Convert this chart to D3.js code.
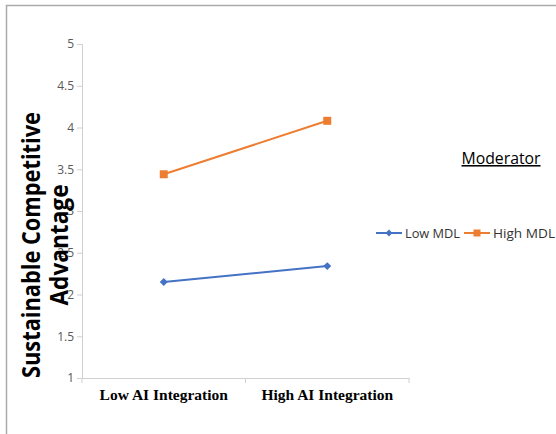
<!DOCTYPE html>
<html><head><meta charset="utf-8">
<script src="https://cdn.jsdelivr.net/npm/d3@7"></script>
<style>body{margin:0;background:#fff}svg{display:block}</style>
</head><body>
<script>
const categories = ["Low AI Integration", "High AI Integration"];
const seriesNames = ["Low MDL", "High MDL"];
const lowMDL = [2.15, 2.34];
const highMDL = [3.44, 4.08];
const yTicks = [1, 1.5, 2, 2.5, 3, 3.5, 4, 4.5, 5];
const colors = ["#4472C4", "#ED7D31"];

const W = 556, H = 434;
const svg = d3.select("body").append("svg").attr("width", W).attr("height", H);

// outer border
svg.append("path").attr("d", `M6.5,${H} V5.5 H${W}`).attr("fill","none").attr("stroke","#aaa").attr("stroke-width",1.5);

const x = d3.scaleBand().domain(categories).range([82, 409]);
const y = d3.scaleLinear().domain([1, 5]).range([378, 44]);

const yAxis = d3.axisLeft(y).tickValues(yTicks).tickSize(5).tickFormat(d3.format("~g"));
const gy = svg.append("g").attr("transform","translate(82,0)").call(yAxis);
gy.select(".domain").attr("stroke","#d0d0d0");
gy.selectAll(".tick line").attr("stroke","#d0d0d0");
gy.selectAll(".tick text").attr("fill","#595959").attr("font-family","Open Sans, sans-serif").attr("font-size",12).attr("x",-8);

const xAxis = d3.axisBottom(x).tickSize(0).tickSizeOuter(0);
const gx = svg.append("g").attr("transform","translate(0,378)").call(xAxis);
gx.select(".domain").attr("stroke","#d0d0d0");
gx.selectAll(".tick text").attr("fill","#000").attr("font-family","Liberation Serif, Times New Roman, serif").attr("font-weight","bold").attr("font-size",15.5).attr("dy","1.2em");
// x tick marks at band boundaries
const bounds = [x.range()[0], x(categories[1]), x.range()[1]];
svg.append("g").selectAll("line").data(bounds).join("line")
  .attr("x1", d=>d).attr("x2", d=>d).attr("y1",378).attr("y2",383).attr("stroke","#d0d0d0");

const cx = d => x(d) + x.bandwidth()/2;
const line = d3.line().x((d,i)=>cx(categories[i])).y(d=>y(d));
const data = [lowMDL, highMDL];
data.forEach((vals, si) => {
  svg.append("path").datum(vals).attr("d", line).attr("fill","none").attr("stroke", colors[si]).attr("stroke-width",2);
});
// markers
svg.append("g").selectAll("path").data(lowMDL).join("path")
  .attr("d", d3.symbol(d3.symbolDiamond2, 40))
  .attr("transform",(d,i)=>`translate(${cx(categories[i])},${y(d)})`).attr("fill",colors[0]);
svg.append("g").selectAll("rect").data(highMDL).join("rect")
  .attr("x",(d,i)=>cx(categories[i])-4).attr("y",d=>y(d)-4).attr("width",8).attr("height",8).attr("fill",colors[1]);

// y title
const yt = svg.append("text").attr("transform","translate(0,245) rotate(-90)")
  .attr("text-anchor","middle").attr("font-family","Open Sans, sans-serif").attr("font-weight","bold").attr("font-size",25).attr("fill","#000");
yt.append("tspan").attr("x",0).attr("y",40).text("Sustainable Competitive").attr("textLength",266).attr("lengthAdjust","spacingAndGlyphs");
yt.append("tspan").attr("x",0).attr("y",68).text("Advantage").attr("textLength",121).attr("lengthAdjust","spacingAndGlyphs");

// legend
svg.append("text").attr("x",501).attr("y",164).attr("text-anchor","middle").attr("font-family","Open Sans, sans-serif").attr("font-size",15.5).attr("fill","#000").attr("text-decoration","underline").text("Moderator").attr("textLength",79).attr("lengthAdjust","spacingAndGlyphs");
const lg = svg.append("g");
const items = [{x0:376, tx:405, w:55}, {x0:464, tx:493, w:62}];
items.forEach((it, i) => {
  lg.append("line").attr("x1",it.x0).attr("x2",it.x0+26).attr("y1",233).attr("y2",233).attr("stroke",colors[i]).attr("stroke-width",2);
  if (i===0) lg.append("path").attr("d", d3.symbol(d3.symbolDiamond2, 30)).attr("transform",`translate(${it.x0+13},233)`).attr("fill",colors[0]);
  else lg.append("rect").attr("x",it.x0+9.5).attr("y",229.5).attr("width",7).attr("height",7).attr("fill",colors[1]);
  lg.append("text").attr("x",it.tx).attr("y",238).attr("font-family","Open Sans, sans-serif").attr("font-size",13.5).attr("fill","#333").text(seriesNames[i]).attr("textLength",it.w).attr("lengthAdjust","spacingAndGlyphs");
});
</script>
</body></html>
